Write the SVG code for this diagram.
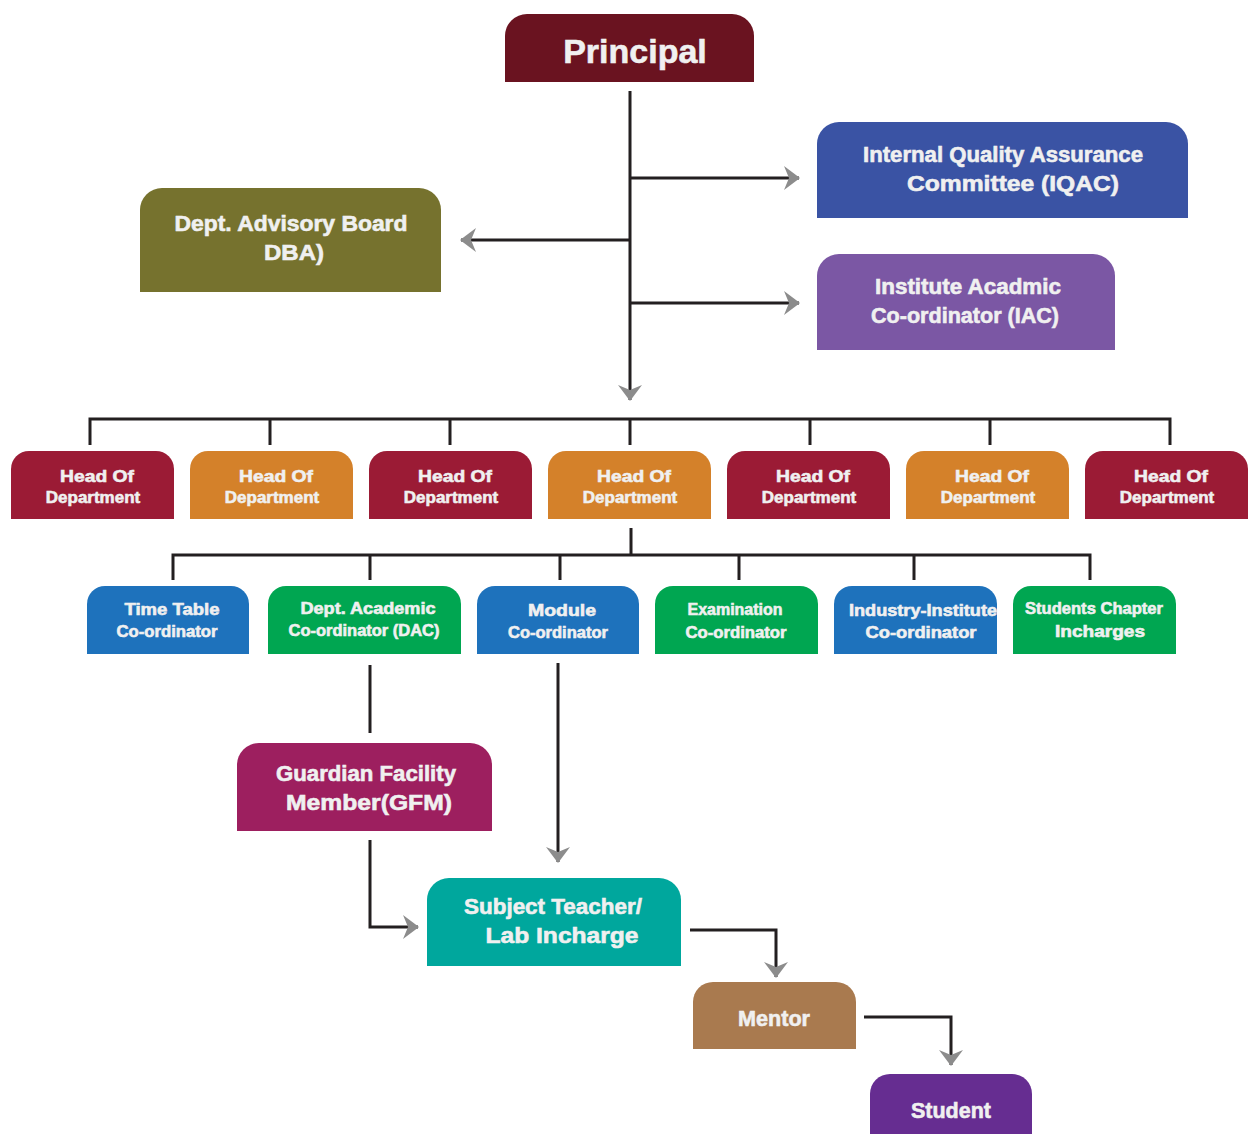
<svg xmlns="http://www.w3.org/2000/svg" width="1248" height="1134" viewBox="0 0 1248 1134">
<style>
.t{font-family:"Liberation Sans",Arial,sans-serif;font-weight:bold;fill:#f0f0f0;text-anchor:middle;stroke:#f0f0f0;stroke-width:0.6}
.l{stroke:#231f20;stroke-width:3;fill:none}
.a{marker-end:url(#ar)}
</style>
<defs>
<marker id="ar" viewBox="0 0 16 24" markerWidth="16" markerHeight="24" refX="15" refY="12" orient="auto" markerUnits="userSpaceOnUse">
<path d="M0,0 L16,12 L0,24 L5,12 Z" fill="#8c8c8c"/>
</marker>
</defs>
<rect width="1248" height="1134" fill="#fff"/>
<g id="connectors">
<path class="l a" d="M630,91 V400"/>
<path class="l a" d="M630,178 H799"/>
<path class="l a" d="M630,240 H461"/>
<path class="l a" d="M630,303 H799"/>
<path class="l" d="M90,445 V419 H1170 V445 M270,419 V445 M450,419 V445 M810,419 V445 M990,419 V445"/>
<path class="l" d="M630,419 V445"/>
<path class="l" d="M631,528 V555 M173,580 V555 H1090 V580 M370,555 V580 M560,555 V580 M739,555 V580 M914,555 V580"/>
<path class="l" d="M370,665 V733"/>
<path class="l a" d="M558,663 V862"/>
<path class="l a" d="M370,840 V927 H418"/>
<path class="l a" d="M690,930 H776 V977"/>
<path class="l a" d="M864,1017 H951 V1065"/>
</g>
<g id="principal">
<path d="M505,82 V36 A22,22 0 0 1 527,14 H732 A22,22 0 0 1 754,36 V82 Z" fill="#6a1320"/>
<text class="t" x="635" y="63" font-size="34">Principal</text>
</g>
<g id="iqac">
<path d="M817,218 V144 A22,22 0 0 1 839,122 H1166 A22,22 0 0 1 1188,144 V218 Z" fill="#3a53a4"/>
<text class="t" x="1003" y="162" font-size="22" textLength="280" lengthAdjust="spacingAndGlyphs">Internal Quality Assurance</text>
<text class="t" x="1013" y="191" font-size="22" textLength="212" lengthAdjust="spacingAndGlyphs">Committee (IQAC)</text>
</g>
<g id="iac">
<path d="M817,350 V276 A22,22 0 0 1 839,254 H1093 A22,22 0 0 1 1115,276 V350 Z" fill="#7b57a4"/>
<text class="t" x="968" y="294" font-size="22" textLength="186" lengthAdjust="spacingAndGlyphs">Institute Acadmic</text>
<text class="t" x="965" y="323" font-size="22" textLength="188" lengthAdjust="spacingAndGlyphs">Co-ordinator (IAC)</text>
</g>
<g id="dba">
<path d="M140,292 V210 A22,22 0 0 1 162,188 H419 A22,22 0 0 1 441,210 V292 Z" fill="#76722e"/>
<text class="t" x="291" y="231" font-size="22" textLength="233" lengthAdjust="spacingAndGlyphs">Dept. Advisory Board</text>
<text class="t" x="294" y="260" font-size="22" textLength="60" lengthAdjust="spacingAndGlyphs">DBA)</text>
</g>
<g id="hod1">
<path d="M11,519 V469 A18,18 0 0 1 29,451 H156 A18,18 0 0 1 174,469 V519 Z" fill="#9b1b35"/>
<text class="t" x="97" y="482" font-size="17" textLength="74" lengthAdjust="spacingAndGlyphs">Head Of</text>
<text class="t" x="93" y="503" font-size="17">Department</text>
</g>
<g id="hod2">
<path d="M190,519 V469 A18,18 0 0 1 208,451 H335 A18,18 0 0 1 353,469 V519 Z" fill="#d4812a"/>
<text class="t" x="276" y="482" font-size="17" textLength="74" lengthAdjust="spacingAndGlyphs">Head Of</text>
<text class="t" x="272" y="503" font-size="17">Department</text>
</g>
<g id="hod3">
<path d="M369,519 V469 A18,18 0 0 1 387,451 H514 A18,18 0 0 1 532,469 V519 Z" fill="#9b1b35"/>
<text class="t" x="455" y="482" font-size="17" textLength="74" lengthAdjust="spacingAndGlyphs">Head Of</text>
<text class="t" x="451" y="503" font-size="17">Department</text>
</g>
<g id="hod4">
<path d="M548,519 V469 A18,18 0 0 1 566,451 H693 A18,18 0 0 1 711,469 V519 Z" fill="#d4812a"/>
<text class="t" x="634" y="482" font-size="17" textLength="74" lengthAdjust="spacingAndGlyphs">Head Of</text>
<text class="t" x="630" y="503" font-size="17">Department</text>
</g>
<g id="hod5">
<path d="M727,519 V469 A18,18 0 0 1 745,451 H872 A18,18 0 0 1 890,469 V519 Z" fill="#9b1b35"/>
<text class="t" x="813" y="482" font-size="17" textLength="74" lengthAdjust="spacingAndGlyphs">Head Of</text>
<text class="t" x="809" y="503" font-size="17">Department</text>
</g>
<g id="hod6">
<path d="M906,519 V469 A18,18 0 0 1 924,451 H1051 A18,18 0 0 1 1069,469 V519 Z" fill="#d4812a"/>
<text class="t" x="992" y="482" font-size="17" textLength="74" lengthAdjust="spacingAndGlyphs">Head Of</text>
<text class="t" x="988" y="503" font-size="17">Department</text>
</g>
<g id="hod7">
<path d="M1085,519 V469 A18,18 0 0 1 1103,451 H1230 A18,18 0 0 1 1248,469 V519 Z" fill="#9b1b35"/>
<text class="t" x="1171" y="482" font-size="17" textLength="74" lengthAdjust="spacingAndGlyphs">Head Of</text>
<text class="t" x="1167" y="503" font-size="17">Department</text>
</g>
<g id="timetable">
<path d="M87,654 V604 A18,18 0 0 1 105,586 H231 A18,18 0 0 1 249,604 V654 Z" fill="#1e72bc"/>
<text class="t" x="172" y="615" font-size="16" textLength="95" lengthAdjust="spacingAndGlyphs">Time Table</text>
<text class="t" x="167" y="637" font-size="16" textLength="101" lengthAdjust="spacingAndGlyphs">Co-ordinator</text>
</g>
<g id="dac">
<path d="M268,654 V604 A18,18 0 0 1 286,586 H443 A18,18 0 0 1 461,604 V654 Z" fill="#00a651"/>
<text class="t" x="368" y="614" font-size="16" textLength="135" lengthAdjust="spacingAndGlyphs">Dept. Academic</text>
<text class="t" x="364" y="636" font-size="16" textLength="151" lengthAdjust="spacingAndGlyphs">Co-ordinator (DAC)</text>
</g>
<g id="module">
<path d="M477,654 V604 A18,18 0 0 1 495,586 H621 A18,18 0 0 1 639,604 V654 Z" fill="#1e72bc"/>
<text class="t" x="562" y="616" font-size="16" textLength="68" lengthAdjust="spacingAndGlyphs">Module</text>
<text class="t" x="558" y="638" font-size="16" textLength="100" lengthAdjust="spacingAndGlyphs">Co-ordinator</text>
</g>
<g id="exam">
<path d="M655,654 V604 A18,18 0 0 1 673,586 H800 A18,18 0 0 1 818,604 V654 Z" fill="#00a651"/>
<text class="t" x="735" y="615" font-size="16" textLength="95" lengthAdjust="spacingAndGlyphs">Examination</text>
<text class="t" x="736" y="638" font-size="16" textLength="101" lengthAdjust="spacingAndGlyphs">Co-ordinator</text>
</g>
<g id="industry">
<path d="M834,654 V604 A18,18 0 0 1 852,586 H979 A18,18 0 0 1 997,604 V654 Z" fill="#1e72bc"/>
<text class="t" x="923" y="616" font-size="16" textLength="148" lengthAdjust="spacingAndGlyphs">Industry-Institute</text>
<text class="t" x="921" y="638" font-size="16" textLength="111" lengthAdjust="spacingAndGlyphs">Co-ordinator</text>
</g>
<g id="chapter">
<path d="M1013,654 V604 A18,18 0 0 1 1031,586 H1158 A18,18 0 0 1 1176,604 V654 Z" fill="#00a651"/>
<text class="t" x="1094" y="614" font-size="16" textLength="138" lengthAdjust="spacingAndGlyphs">Students Chapter</text>
<text class="t" x="1100" y="637" font-size="16" textLength="90" lengthAdjust="spacingAndGlyphs">Incharges</text>
</g>
<g id="gfm">
<path d="M237,831 V765 A22,22 0 0 1 259,743 H470 A22,22 0 0 1 492,765 V831 Z" fill="#9d1f5f"/>
<text class="t" x="366" y="781" font-size="22" textLength="180" lengthAdjust="spacingAndGlyphs">Guardian Facility</text>
<text class="t" x="369" y="810" font-size="22" textLength="166" lengthAdjust="spacingAndGlyphs">Member(GFM)</text>
</g>
<g id="subject">
<path d="M427,966 V900 A22,22 0 0 1 449,878 H659 A22,22 0 0 1 681,900 V966 Z" fill="#00a79d"/>
<text class="t" x="553" y="914" font-size="22" textLength="178" lengthAdjust="spacingAndGlyphs">Subject Teacher/</text>
<text class="t" x="562" y="943" font-size="22" textLength="153" lengthAdjust="spacingAndGlyphs">Lab Incharge</text>
</g>
<g id="mentor">
<path d="M693,1049 V1002 A20,20 0 0 1 713,982 H836 A20,20 0 0 1 856,1002 V1049 Z" fill="#a97a4f"/>
<text class="t" x="774" y="1026" font-size="22" textLength="72" lengthAdjust="spacingAndGlyphs">Mentor</text>
</g>
<g id="student">
<path d="M870,1134 V1094 A20,20 0 0 1 890,1074 H1012 A20,20 0 0 1 1032,1094 V1134 Z" fill="#662d91"/>
<text class="t" x="951" y="1118" font-size="22" textLength="80" lengthAdjust="spacingAndGlyphs">Student</text>
</g>
</svg>
